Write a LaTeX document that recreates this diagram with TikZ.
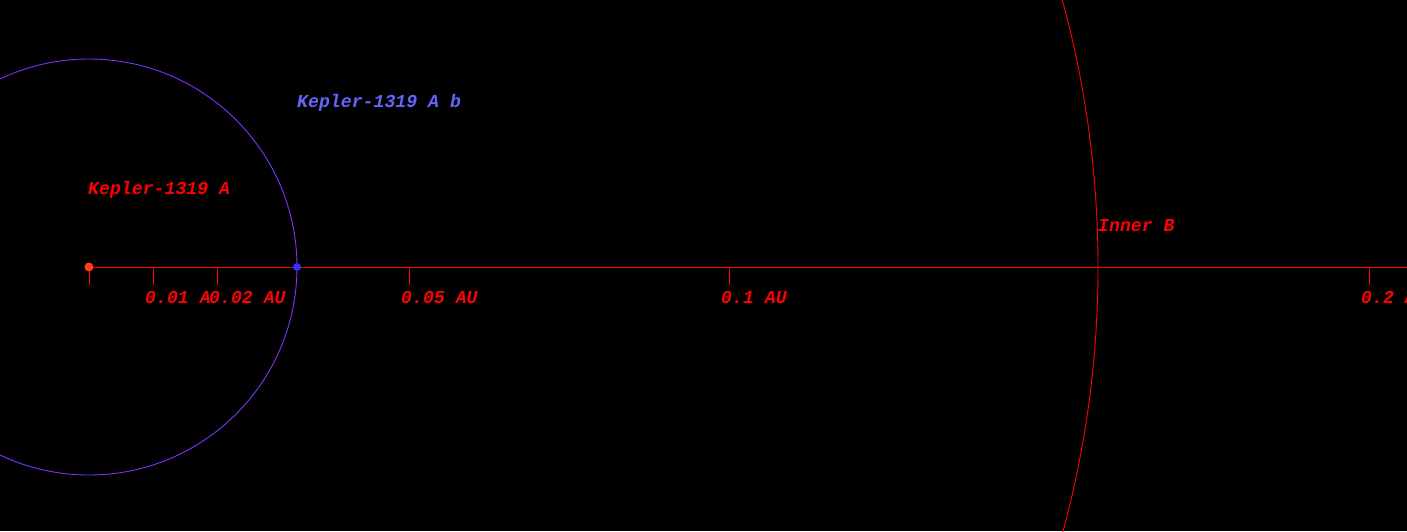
\documentclass[tikz,border=0pt]{standalone}
\usepackage{fontspec}
\newfontfamily\monofont{Liberation Mono}
\definecolor{orbitpurple}{RGB}{128,48,255}
\definecolor{labelblue}{RGB}{100,100,255}
\definecolor{planetblue}{RGB}{50,50,255}
\definecolor{starred}{RGB}{255,60,30}
\tikzset{
  lbl/.style={anchor=base west, inner sep=0pt, font=\monofont\bfseries\itshape\fontsize{18.2}{20}\selectfont},
  redlbl/.style={lbl, text=red},
  tickline/.style={red, line width=0.9pt},
}
\begin{document}
\begin{tikzpicture}[x=1pt,y=-1pt]
\fill[black] (0,0) rectangle (1407,531);
\useasboundingbox (0,0) rectangle (1407,531);
\begin{scope}
\clip (0,0) rectangle (1407,531);
% inner B circle
\draw[red, line width=0.9pt] (89,267) circle (1009);
% planet orbit
\draw[orbitpurple, line width=0.9pt] (89,267) circle (208);
\end{scope}
% axis
\coordinate (axstart) at (89,267);
\coordinate (axend) at (1407,267);
\draw[tickline] (axstart) -- (axend);
\foreach \x in {89,153,217,409,729,1369}{
  \draw[tickline] (\x,267) -- (\x,285);
}
% labels
\node[redlbl] (l1) at (145,303) {0.01 A};
\node[redlbl] (l2) at (209,303) {0.02 AU};
\node[redlbl] (l5) at (401,303) {0.05 AU};
\node[redlbl] (l10) at (721,303) {0.1 AU};
\node[redlbl] (l20) at (1361,303) {0.2 AU};
\node[redlbl] (star) at (88,194) {Kepler-1319 A};
\node[lbl, text=labelblue] (planet) at (297,107) {Kepler-1319 A b};
\node[redlbl] (innerb) at (1098,231) {Inner B};
% bodies
\fill[starred] (89,267) circle (4.5);
\fill[planetblue] (297,267) circle (4);
\end{tikzpicture}
\end{document}
